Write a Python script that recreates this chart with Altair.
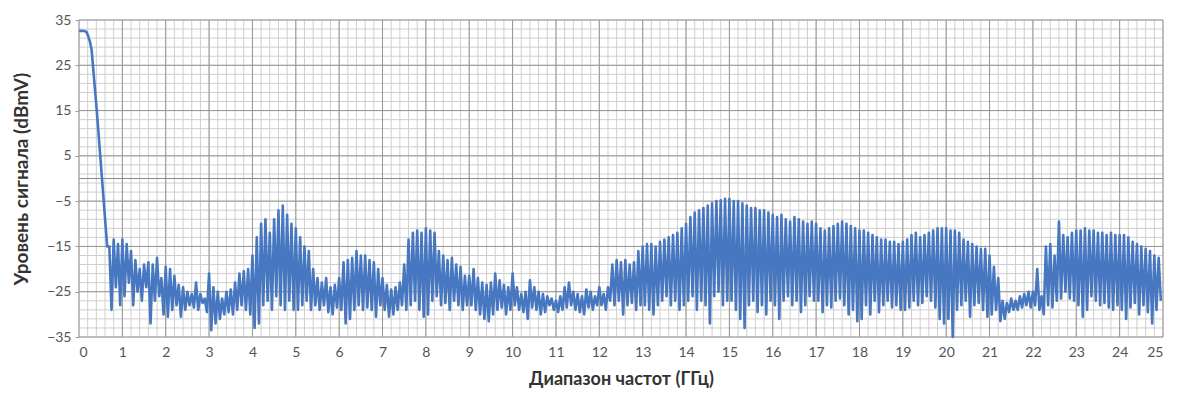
import altair as alt
import pandas as pd

# ---- data ----
# roll-off at the start of the band (GHz, dBmV)
start_freq = [0.0, 0.1, 0.17, 0.21, 0.25, 0.29, 0.33, 0.37, 0.41, 0.45, 0.49, 0.53, 0.57, 0.61, 0.65]
start_level = [32.6, 32.6, 32.4, 31.5, 30.3, 28.5, 24.0, 19.5, 15.0, 10.0, 5.0, 0.0, -5.0, -10.0, -15.0]

# noisy part: one peak and one trough every 0.1 GHz, from 0.7 GHz to 24.9 GHz
noise_first_freq = 0.7
peak_level = [
    -15, -13.5, -14.5,
    -13.5, -14.5, -16, -18, -20, -19, -18.5, -19, -17.5, -22,
    -19.5, -20, -21.5, -23.5, -24, -25, -25.5, -23, -25.5, -26.5,
    -21, -24, -25, -26.5, -25, -24.5, -23, -21, -20.5, -20,
    -17, -13, -10, -9, -12, -9, -7, -6, -8, -10,
    -11, -13, -15, -16, -20, -22, -23, -22, -24, -23.5,
    -22, -18.5, -18, -17.5, -16, -17, -17, -18, -18.5, -20,
    -22, -23.5, -24.5, -24, -23, -19, -13.5, -12, -11.5, -12,
    -11, -11.5, -12, -16, -17, -18, -17.5, -19, -19.5, -21.5,
    -21.5, -20, -22, -23, -23.5, -23, -21, -22.5, -23.5, -24,
    -21, -24, -25.5, -25, -22.5, -24, -25, -25.5, -26, -26.5,
    -27, -26, -24, -23, -25, -25.5, -26, -24.5, -25, -26,
    -24, -25.5, -24, -19, -18, -18.5, -18, -19, -18.5, -16,
    -15, -14.5, -14.5, -15, -14, -13.5, -13, -12.5, -12, -11,
    -10, -8.5, -7.5, -7, -6.5, -6, -5.5, -5, -4.8, -4.5,
    -4.5, -5, -5, -5.5, -6, -6.5, -6.5, -7, -7, -7.5,
    -8, -8.5, -8, -9, -9.5, -8.5, -9, -9.5, -10, -9.5,
    -10, -11, -11.5, -11, -10.5, -10, -9.5, -10, -10.5, -11,
    -11.5, -11.5, -12, -12.5, -13, -13.5, -13.5, -14, -14, -14.5,
    -14, -13.5, -12.5, -12, -13, -12.5, -12, -11.5, -11, -11,
    -11, -11.5, -11.5, -12, -13.5, -14, -14.5, -15, -15.5, -15.5,
    -17, -19.5, -22, -27, -27.5, -26.5, -27, -26, -25.5, -25,
    -25, -20, -26, -15, -14.5, -17, -9.5, -12.5, -13, -12,
    -11.5, -11.5, -11, -11.5, -11.5, -12, -12, -12.5, -12, -12.5,
    -12.5, -12.5, -13, -14, -14.5, -15, -15.5, -16, -17, -17.5,
]
trough_level = [
    -29, -24, -28,
    -26, -23, -28, -25, -27, -24, -32, -27, -26, -30,
    -30.5, -29, -28, -30.5, -29, -28, -28.5, -29, -27.5, -29.5,
    -33.5, -32, -31, -30, -29.5, -30, -29, -28, -29, -30,
    -33, -32, -28, -27, -29, -26, -28, -29, -27, -29,
    -29, -28, -27, -29, -28, -29, -28, -29.5, -30, -28.5,
    -29, -32, -31, -29, -28, -29, -28.5, -29, -30.5, -28,
    -29, -30.5, -30, -29, -28, -29, -28, -27, -29, -30.5,
    -30, -27, -26, -28, -27.5, -29, -27, -28, -29, -28,
    -28, -29, -30, -31, -31.5, -30, -29, -28.5, -30, -29,
    -28, -29, -29.5, -31, -28.5, -29, -30, -29.5, -28, -29,
    -29.5, -29, -28.5, -28, -29, -29.5, -30, -28.5, -29, -28,
    -28, -29, -27, -28, -27, -30, -28, -27.5, -29, -28,
    -28, -29, -30, -28, -27, -26, -28, -27, -29, -28,
    -27, -26, -29, -27, -28, -32, -26, -25, -28, -27,
    -27, -29, -31, -33, -28, -27, -29.5, -28, -30, -27,
    -28, -31, -27, -26, -28, -27, -29.5, -28, -26, -27,
    -27, -29.5, -28, -28.5, -27, -26.5, -28, -30, -29, -31.5,
    -31, -28, -30, -27, -29.5, -28, -27, -28.5, -28, -29,
    -29, -28.5, -27, -28, -27.5, -26, -27, -28.5, -31, -32,
    -31, -35, -29, -28, -27, -30.5, -28, -27.5, -29, -30.5,
    -30, -29, -31.5, -31, -29.5, -29, -29, -28.5, -28, -28.5,
    -28, -29, -30, -28, -28.5, -27, -26.5, -25, -26.5, -27,
    -28, -30.5, -29, -26, -27, -28, -27.5, -28.5, -29, -28,
    -29, -31, -28.5, -27.5, -30, -28, -29.5, -32, -29, -27,
]

x_tick_values = list(range(0, 26))
y_tick_values = [-35, -25, -15, -5, 5, 15, 25, 35]
minor_x_values = [round(0.2 * i, 1) for i in range(126)]
minor_y_values = list(range(-35, 36, 2))

x_title = "Диапазон частот (ГГц)"
y_title = "Уровень сигнала (dBmV)"

# ---- build the table ----
freq = list(start_freq)
level = list(start_level)
for i, (p, t) in enumerate(zip(peak_level, trough_level)):
    f = round(noise_first_freq + 0.1 * i, 3)
    freq += [f, round(f + 0.05, 3)]
    level += [p, t]
signal = pd.DataFrame({"v": freq, "w": level, "order": range(len(freq))})

FONT = "Lato"
xscale = alt.Scale(domain=[0, 25], nice=False, zero=False)
yscale = alt.Scale(domain=[-35, 35], nice=False, zero=False)

xaxis = alt.Axis(
    values=x_tick_values, grid=False, domain=False, ticks=False,
    labelFont=FONT, labelFontSize=14, labelColor="#555555", labelPadding=8,
    title=x_title, titleFont=FONT, titleFontSize=18, titleFontWeight="bold",
    titleColor="#333333", titlePadding=11,
)
yaxis = alt.Axis(
    values=y_tick_values, grid=False, domain=False, ticks=True, tickSize=4,
    tickColor="#9a9a9a", labelFont=FONT, labelFontSize=14, labelColor="#555555",
    labelPadding=4, title=y_title, titleFont=FONT, titleFontSize=19,
    titleFontWeight="bold", titleColor="#333333", titlePadding=15,
)

minor_x = alt.Chart(pd.DataFrame({"v": minor_x_values})).mark_rule(
    color="#cfcfcf", strokeWidth=1
).encode(x=alt.X("v:Q", scale=xscale, axis=xaxis))
minor_y = alt.Chart(pd.DataFrame({"w": minor_y_values})).mark_rule(
    color="#cfcfcf", strokeWidth=1
).encode(y=alt.Y("w:Q", scale=yscale, axis=yaxis))
major_x = alt.Chart(pd.DataFrame({"v": x_tick_values})).mark_rule(
    color="#969696", strokeWidth=1
).encode(x=alt.X("v:Q", scale=xscale, axis=xaxis))
major_y = alt.Chart(pd.DataFrame({"w": y_tick_values})).mark_rule(
    color="#969696", strokeWidth=1
).encode(y=alt.Y("w:Q", scale=yscale, axis=yaxis))
zero_line = alt.Chart(pd.DataFrame({"w": [0]})).mark_rule(
    color="#8a8a8a", strokeWidth=1
).encode(y=alt.Y("w:Q", scale=yscale, axis=yaxis))

line = alt.Chart(signal).mark_line(
    color="#4677c0", strokeWidth=2.6, strokeJoin="round", interpolate="linear"
).encode(
    x=alt.X("v:Q", scale=xscale, axis=xaxis),
    y=alt.Y("w:Q", scale=yscale, axis=yaxis),
    order="order:Q",
)

chart = alt.layer(minor_x, minor_y, major_x, major_y, zero_line, line).properties(
    width=1084,
    height=317,
    autosize=alt.AutoSizeParams(type="none"),
    padding={"left": 71, "top": 12, "right": 12, "bottom": 56},
    background="white",
).configure_view(stroke=None)

chart.save("out.html", embed_options={"renderer": "svg", "actions": False})
